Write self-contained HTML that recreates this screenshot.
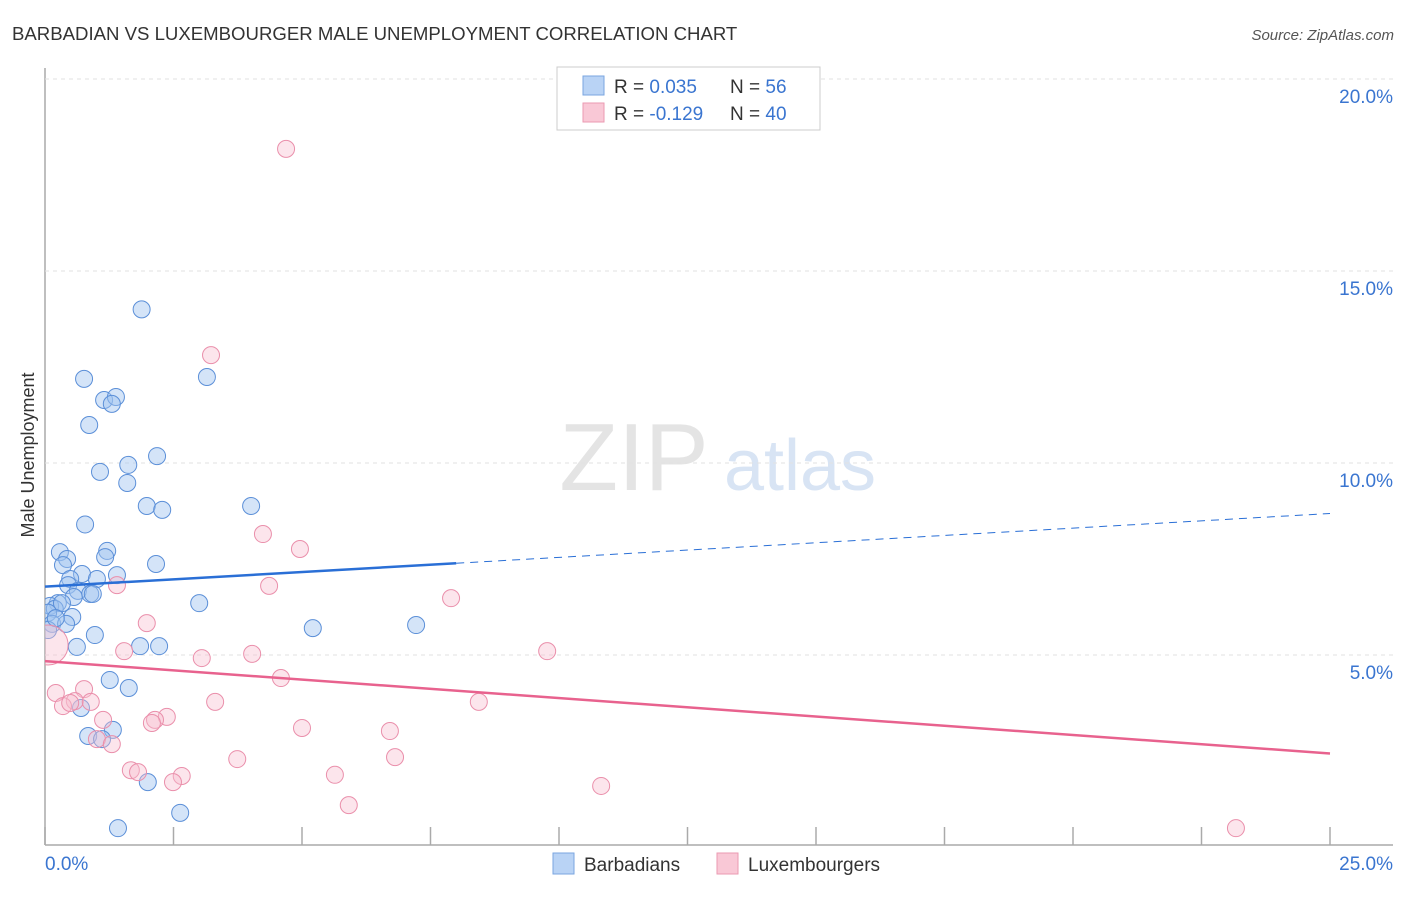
<!DOCTYPE html>
<html><head><meta charset="utf-8"><style>
body{margin:0;background:#fff;font-family:"Liberation Sans",sans-serif}
svg text{font-family:"Liberation Sans",sans-serif}
</style></head><body>
<svg id="c" width="1406" height="892">
<defs><clipPath id="pc"><rect x="45" y="60" width="1360" height="785"/></clipPath></defs>
<text x="12" y="40" font-size="18.6" fill="#333">BARBADIAN VS LUXEMBOURGER MALE UNEMPLOYMENT CORRELATION CHART</text>
<text x="1394" y="40" font-size="15" fill="#555" font-style="italic" text-anchor="end">Source: ZipAtlas.com</text>
<text x="634" y="490" font-size="96" fill="#e4e4e4" font-family="Liberation Serif" text-anchor="middle">ZIP</text>
<text x="800" y="490" font-size="72" fill="#d8e4f4" text-anchor="middle">atlas</text>
<text transform="translate(34,455) rotate(-90)" font-size="18" fill="#333" text-anchor="middle">Male Unemployment</text>
<g id="grid"></g><g id="pts" clip-path="url(#pc)"></g><g id="lines"></g>
<rect x="557" y="67" width="263" height="63" fill="#fff" stroke="#ccc"/>
<rect x="583" y="76" width="21" height="19" fill="#b9d3f5" stroke="#7aa6e0"/>
<rect x="583" y="103" width="21" height="19" fill="#f9c8d6" stroke="#eb9ab2"/>
<text x="614" y="93" font-size="19" fill="#333">R = <tspan fill="#3a75d0">0.035</tspan><tspan x="730">N = </tspan><tspan fill="#3a75d0">56</tspan></text>
<text x="614" y="120" font-size="19" fill="#333">R = <tspan fill="#3a75d0">-0.129</tspan><tspan x="730">N = </tspan><tspan fill="#3a75d0">40</tspan></text>
<rect x="553" y="853" width="21" height="21" fill="#b9d3f5" stroke="#7aa6e0"/>
<text x="584" y="871" font-size="19" fill="#333">Barbadians</text>
<rect x="717" y="853" width="21" height="21" fill="#f9c8d6" stroke="#eb9ab2"/>
<text x="748" y="871" font-size="19" fill="#333">Luxembourgers</text>
</svg>
<script>
const xTicks=[0,2.5,5,7.5,10,12.5,15,17.5,20,22.5,25];
const yTicks=[5,10,15,20];
const yTickLabels=["5.0%","10.0%","15.0%","20.0%"];
const blueX=[1.88,0.76,3.15,1.15,1.38,1.3,0.86,2.18,1.62,1.07,1.6,1.98,2.28,4.01,0.78,0.29,1.21,0.43,1.17,0.35,2.16,0.72,1.4,0.49,1.01,0.45,0.64,0.88,0.93,0.56,0.25,0.1,0.19,3.0,0.33,0.06,0.53,0.14,0.41,5.21,7.22,0.97,1.85,2.22,0.62,1.26,1.63,0.7,1.32,0.84,1.11,2.0,2.63,1.42,0.06,0.21];
const blueY=[14.0,12.19,12.24,11.64,11.72,11.54,10.99,10.18,9.95,9.77,9.48,8.88,8.78,8.88,8.4,7.68,7.71,7.5,7.55,7.34,7.37,7.11,7.08,6.98,6.98,6.82,6.67,6.59,6.59,6.51,6.35,6.28,6.2,6.35,6.35,6.1,5.99,5.81,5.81,5.7,5.78,5.52,5.23,5.23,5.21,4.35,4.14,3.62,3.05,2.89,2.81,1.69,0.89,0.49,5.65,5.96];
const pinkX=[4.69,3.23,4.24,4.96,4.36,1.4,7.9,1.98,1.54,3.05,4.03,9.77,0.06,4.59,0.21,0.76,0.58,8.44,3.31,0.35,0.49,0.89,1.13,2.37,2.14,2.08,5.0,6.71,1.01,1.3,3.74,6.81,1.67,1.81,2.66,2.49,5.64,5.91,10.82,23.17];
const pinkY=[18.18,12.81,8.15,7.76,6.8,6.82,6.48,5.83,5.1,4.92,5.03,5.1,5.26,4.4,4.01,4.11,3.8,3.78,3.78,3.67,3.75,3.78,3.31,3.39,3.31,3.23,3.1,3.02,2.81,2.68,2.29,2.34,2.0,1.95,1.85,1.69,1.88,1.09,1.59,0.49];
const X=v=>45+v*51.4, Y=v=>847-v*38.4;
const NS="http://www.w3.org/2000/svg";
function mk(t,a,p){const e=document.createElementNS(NS,t);for(const k in a)e.setAttribute(k,a[k]);p.appendChild(e);return e;}
const g=document.getElementById('grid');
let ax=mk('line',{x1:45,y1:68,x2:45,y2:845,stroke:'#aaa','stroke-width':1.5},g);


let bx=mk('line',{x1:45,y1:845,x2:1393,y2:845,stroke:'#aaa','stroke-width':1.5},g);


yTicks.forEach((t,i)=>{
 const l=mk('line',{x1:45,x2:1393,y1:Y(t),y2:Y(t),stroke:'#e2e2e2','stroke-width':1,'stroke-dasharray':'4,4'},g);
 
 
 const tx=mk('text',{x:1393,y:Y(t)+24,'font-size':19,fill:'#3a75d0','text-anchor':'end'},g);
 tx.textContent=yTickLabels[i];
 
 
});
xTicks.forEach(t=>{
 const l=mk('line',{x1:X(t),x2:X(t),y1:827,y2:845,stroke:'#aaa','stroke-width':1.5},g);
 
 
});
let t0=mk('text',{x:45,y:870,'font-size':19,fill:'#3a75d0'},g);t0.textContent='0.0%';


let t1=mk('text',{x:1393,y:870,'font-size':19,fill:'#3a75d0','text-anchor':'end'},g);t1.textContent='25.0%';


const P=document.getElementById('pts');
blueX.forEach((v,i)=>{
 const c=mk('circle',{cx:X(v),cy:Y(blueY[i]),r:8.5,fill:'rgba(160,196,240,0.45)',stroke:'#5b8fd8','stroke-width':1},P);
 
 
});
pinkX.forEach((v,i)=>{
 const c=mk('circle',{cx:X(v),cy:Y(pinkY[i]),r:i==12?20:8.5,fill:'rgba(248,190,208,0.4)',stroke:'#ea8fab','stroke-width':1},P);
 
 
});
const L=document.getElementById('lines');
const bA=6.78,bB=0.0762,pA=4.84,pB=-0.0962;
let l1=mk('line',{x1:X(0),y1:Y(bA),x2:X(8),y2:Y(bA+bB*8),stroke:'#2a6fd6','stroke-width':2.5},L);


let l2=mk('line',{x1:X(8),y1:Y(bA+bB*8),x2:X(25),y2:Y(bA+bB*25),stroke:'#2a6fd6','stroke-width':1,'stroke-dasharray':'8,6'},L);


let l3=mk('line',{x1:X(0),y1:Y(pA),x2:X(25),y2:Y(pA+pB*25),stroke:'#e8628e','stroke-width':2.5},L);


</script>
</body></html>
